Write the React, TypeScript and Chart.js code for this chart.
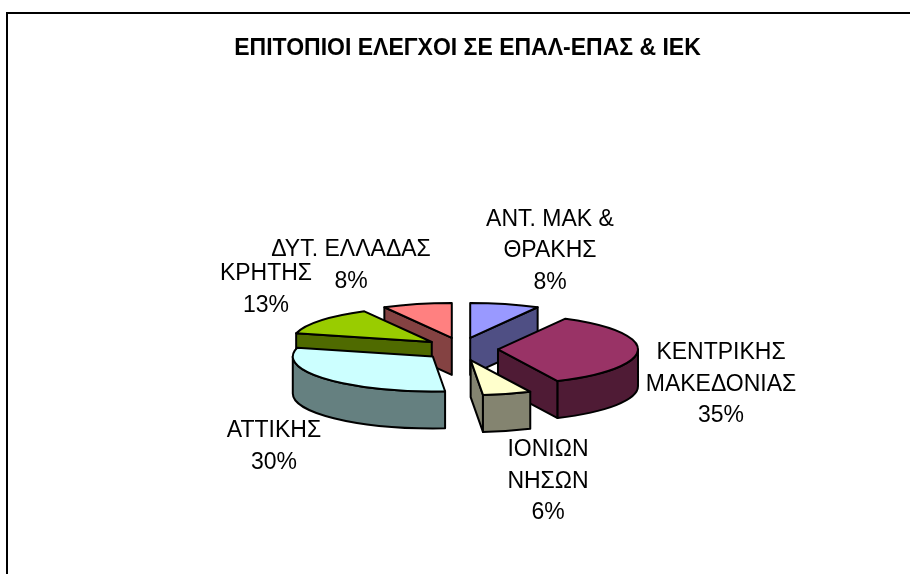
import React, { useEffect, useRef } from "react";
import { Chart, registerables } from "chart.js";

Chart.register(...registerables);

const categories = ["ΑΝΤ. ΜΑΚ & ΘΡΑΚΗΣ", "ΚΕΝΤΡΙΚΗΣ ΜΑΚΕΔΟΝΙΑΣ", "ΙΟΝΙΩΝ ΝΗΣΩΝ", "ΑΤΤΙΚΗΣ", "ΚΡΗΤΗΣ", "ΔΥΤ. ΕΛΛΑΔΑΣ"];
const shares = [8, 35, 5.6, 30.4, 13, 8];
const topColors = ["#9999FF", "#993366", "#FFFFCC", "#CCFFFF", "#99CC00", "#FF8080"];
const sideColors = ["#4F4F84", "#4F1B35", "#848470", "#658080", "#4F6A00", "#844242"];
const titleText = "ΕΠΙΤΟΠΙΟΙ ΕΛΕΓΧΟΙ ΣΕ ΕΠΑΛ-ΕΠΑΣ & ΙΕΚ";

const labelLines = [
  ["ΑΝΤ. ΜΑΚ &", "ΘΡΑΚΗΣ"],
  ["ΚΕΝΤΡΙΚΗΣ", "ΜΑΚΕΔΟΝΙΑΣ"],
  ["ΙΟΝΙΩΝ", "ΝΗΣΩΝ"],
  ["ΑΤΤΙΚΗΣ"],
  ["ΚΡΗΤΗΣ"],
  ["ΔΥΤ. ΕΛΛΑΔΑΣ"],
];
const labelAnchors = [
  [550, 219.5],
  [721, 353],
  [548, 450],
  [274, 431],
  [266, 274],
  [351, 250],
];
const drawOrder = [5, 0, 4, 1, 3, 2];

const PIE = { cx: 461, cy: 349, rx: 140, ry: 35, depth: 37, explode: 37, explodeSquash: 0.31 };
const LABEL_FONT = '23px "Liberation Sans", Arial, sans-serif';
const LINE_HEIGHT = 31.5;

const pie3dPlugin = {
  id: "pie3d",
  beforeDraw(chart: any) {
    const { ctx, width, height } = chart;
    ctx.save();
    ctx.fillStyle = "#fff";
    ctx.fillRect(0, 0, width, height);
    ctx.strokeStyle = "#000";
    ctx.lineWidth = 2;
    ctx.beginPath();
    ctx.moveTo(7, height);
    ctx.lineTo(7, 13);
    ctx.lineTo(width, 13);
    ctx.stroke();
    ctx.restore();
  },
  beforeDatasetsDraw(chart: any) {
    const { ctx } = chart;
    const arcs = chart.getDatasetMeta(0).data;
    const { rx, ry, depth } = PIE;
    ctx.save();
    ctx.strokeStyle = "#000";
    ctx.lineWidth = 2;
    ctx.lineJoin = "round";
    for (const i of drawOrder) {
      const arc = arcs[i];
      const a0 = arc.startAngle;
      const a1 = arc.endAngle;
      const mid = (a0 + a1) / 2;
      const tx = PIE.cx + PIE.explode * Math.cos(mid);
      const ty = PIE.cy + PIE.explode * PIE.explodeSquash * Math.sin(mid);
      const px = (a: number) => tx + rx * Math.cos(a);
      const py = (a: number) => ty + ry * Math.sin(a);
      const top = arc.options.backgroundColor;
      const side = sideColors[i];
      const radialFace = (a: number) => {
        ctx.beginPath();
        ctx.moveTo(tx, ty);
        ctx.lineTo(px(a), py(a));
        ctx.lineTo(px(a), py(a) + depth);
        ctx.lineTo(tx, ty + depth);
        ctx.closePath();
        ctx.fillStyle = side;
        ctx.fill();
        ctx.stroke();
      };
      // a radial wall shows when its outward normal faces the viewer
      if (Math.sin(a0 - Math.PI / 2) > 0.001) radialFace(a0);
      if (Math.sin(a1 + Math.PI / 2) > 0.001) radialFace(a1);
      // outer wall: the front half of the rim
      const w0 = Math.max(a0, 0);
      const w1 = Math.min(a1, Math.PI);
      if (w1 > w0) {
        ctx.beginPath();
        ctx.ellipse(tx, ty, rx, ry, 0, w0, w1);
        ctx.ellipse(tx, ty + depth, rx, ry, 0, w1, w0, true);
        ctx.closePath();
        ctx.fillStyle = side;
        ctx.fill();
        ctx.stroke();
      }
      ctx.beginPath();
      ctx.moveTo(tx, ty);
      ctx.ellipse(tx, ty, rx, ry, 0, a0, a1);
      ctx.closePath();
      ctx.fillStyle = top;
      ctx.fill();
      ctx.stroke();
    }
    ctx.restore();
    return false;
  },
  afterDraw(chart: any) {
    const { ctx } = chart;
    const values = chart.data.datasets[0].data as number[];
    const total = values.reduce((s, v) => s + v, 0);
    ctx.save();
    ctx.font = LABEL_FONT;
    ctx.fillStyle = "#000";
    ctx.textAlign = "center";
    ctx.textBaseline = "middle";
    labelLines.forEach((lines, i) => {
      const [x, y] = labelAnchors[i];
      [...lines, `${Math.round((values[i] / total) * 100)}%`].forEach((t, j) => {
        ctx.fillText(t, x, y + j * LINE_HEIGHT);
      });
    });
    ctx.restore();
  },
};

export default function App() {
  const ref = useRef<HTMLCanvasElement>(null);
  useEffect(() => {
    document.body.style.margin = "0";
    const chart = new Chart(ref.current!, {
      type: "pie",
      data: {
        labels: categories,
        datasets: [{ data: shares, backgroundColor: topColors, radius: PIE.rx }],
      },
      options: {
        animation: false,
        responsive: false,
        layout: { padding: { left: 25, right: 0, top: 0, bottom: 0 } },
        plugins: {
          legend: { display: false },
          tooltip: { enabled: false },
          title: {
            display: true,
            text: titleText,
            color: "#000",
            font: { family: '"Liberation Sans", Arial, sans-serif', size: 23, weight: "bold" },
            padding: { top: 35, bottom: 10 },
          },
        },
      },
      plugins: [pie3dPlugin],
    } as any);
    return () => chart.destroy();
  }, []);
  return <canvas ref={ref} width={910} height={574} style={{ display: "block" }} />;
}
